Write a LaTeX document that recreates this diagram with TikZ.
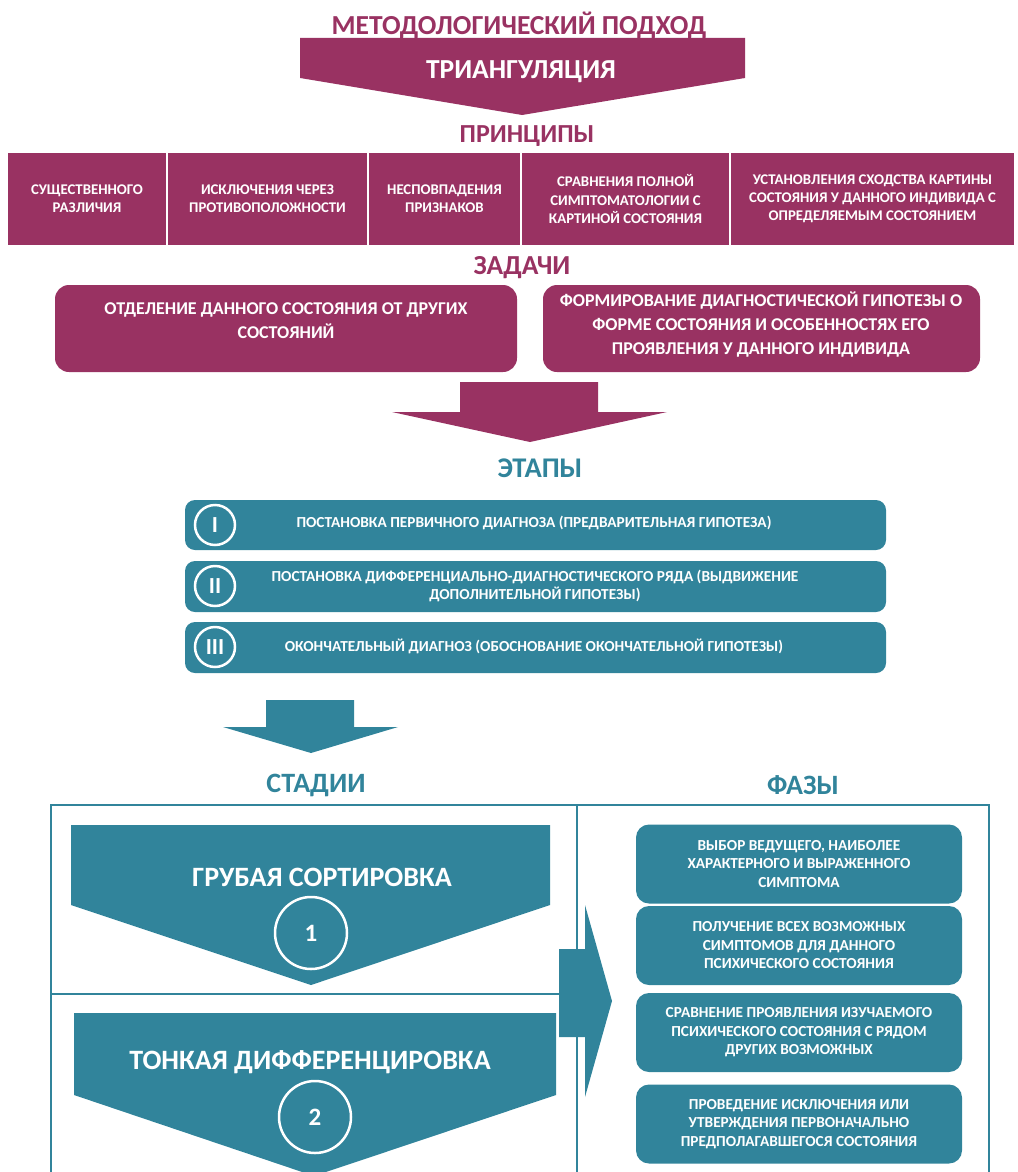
\documentclass[tikz,border=0pt]{standalone}
\usepackage{fontspec}
\setmainfont{Carlito}
\usetikzlibrary{calc}
\definecolor{plum}{RGB}{153,50,98}
\definecolor{sea}{RGB}{49,132,155}

\tikzset{
  head/.style={font=\bfseries\fontsize{27.5}{30}\selectfont},
  prin/.style={draw=white,line width=1.5pt,fill=plum,text=white,align=center,
    minimum width=#1,minimum height=93,inner sep=2pt,
    font=\bfseries\fontsize{14.8}{18}\selectfont},
  task/.style={fill=plum,text=white,align=center,rounded corners=14,
    font=\bfseries\fontsize{18}{24}\selectfont},
  bar/.style={fill=sea,rounded corners=10},
  bartxt/.style={text=white,align=center,font=\bfseries\fontsize{15.3}{18}\selectfont},
  rim/.style={circle,draw=white,line width=2.5pt,text=white,minimum size=#1,inner sep=0pt},
  phase/.style={fill=sea,text=white,align=center,rounded corners=13,
    minimum width=326,minimum height=79,
    font=\bfseries\fontsize{15.3}{18.5}\selectfont},
}

\begin{document}
\begin{tikzpicture}[x=1pt,y=-1pt]
\useasboundingbox (0,0) rectangle (1017,1172);

% triangulation arrow
\fill[plum] (300,38) -- (745,38) -- (745,78) -- (522,115) -- (300,78) -- cycle;
\node[head,text=plum] (meth) at (519,25) {МЕТОДОЛОГИЧЕСКИЙ ПОДХОД};
\node[head,text=white] (tri) at (521,72) {ТРИАНГУЛЯЦИЯ};

% principles
\node[head,text=plum,font=\bfseries\fontsize{26}{30}\selectfont] (prn) at (527,136) {ПРИНЦИПЫ};
\node[prin=160] (p1) at (87,199) {СУЩЕСТВЕННОГО\\РАЗЛИЧИЯ};
\node[prin=201] (p2) at (267.5,199) {ИСКЛЮЧЕНИЯ ЧЕРЕЗ\\ПРОТИВОПОЛОЖНОСТИ};
\node[prin=153] (p3) at (444.5,199) {НЕСПОВПАДЕНИЯ\\ПРИЗНАКОВ};
\node[prin=209] (p4) at (625.5,199) {СРАВНЕНИЯ ПОЛНОЙ\\СИМПТОМАТОЛОГИИ С\\КАРТИНОЙ СОСТОЯНИЯ};
\node[prin=285] (p5) at (872.5,199) {УСТАНОВЛЕНИЯ СХОДСТВА КАРТИНЫ\\СОСТОЯНИЯ У ДАННОГО ИНДИВИДА С\\ОПРЕДЕЛЯЕМЫМ СОСТОЯНИЕМ};

% tasks
\node[head,text=plum] (zad) at (522,268) {ЗАДАЧИ};
\fill[plum,rounded corners=14] (55,285) rectangle (517,372);
\fill[plum,rounded corners=14] (543,285) rectangle (980,372);
\node[task] (t1) at (286,321) {ОТДЕЛЕНИЕ ДАННОГО СОСТОЯНИЯ ОТ ДРУГИХ\\СОСТОЯНИЙ};
\node[task] (t2) at (761,325) {ФОРМИРОВАНИЕ ДИАГНОСТИЧЕСКОЙ ГИПОТЕЗЫ О\\ФОРМЕ СОСТОЯНИЯ И ОСОБЕННОСТЯХ ЕГО\\ПРОЯВЛЕНИЯ У ДАННОГО ИНДИВИДА};
\fill[plum] (460,382) -- (598,382) -- (598,412) -- (667,412) -- (530,442)
  -- (392,412) -- (460,412) -- cycle;

% stages
\node[head,text=sea,font=\bfseries\fontsize{28.5}{30}\selectfont] (etp) at (540,468) {ЭТАПЫ};
\fill[bar] (185,500) rectangle (886,550);
\fill[bar] (185,561) rectangle (886,612);
\fill[bar] (185,622) rectangle (886,673);
\node[rim=40,font=\bfseries\fontsize{23}{24}\selectfont] (r1) at (215,525) {I};
\node[rim=40,font=\bfseries\fontsize{23}{24}\selectfont] (r2) at (215,586) {II};
\node[rim=40,font=\bfseries\fontsize{23}{24}\selectfont] (r3) at (215,647) {III};
\node[bartxt] (e1) at (534,523) {ПОСТАНОВКА ПЕРВИЧНОГО ДИАГНОЗА (ПРЕДВАРИТЕЛЬНАЯ ГИПОТЕЗА)};
\node[bartxt] (e2) at (535,586) {ПОСТАНОВКА ДИФФЕРЕНЦИАЛЬНО-ДИАГНОСТИЧЕСКОГО РЯДА (ВЫДВИЖЕНИЕ\\ДОПОЛНИТЕЛЬНОЙ ГИПОТЕЗЫ)};
\node[bartxt] (e3) at (534,646) {ОКОНЧАТЕЛЬНЫЙ ДИАГНОЗ (ОБОСНОВАНИЕ ОКОНЧАТЕЛЬНОЙ ГИПОТЕЗЫ)};
\fill[sea] (266,700) -- (354,700) -- (354,727) -- (398,727) -- (311,753)
  -- (223,727) -- (266,727) -- cycle;

% frame
\node[head,text=sea,font=\bfseries\fontsize{28}{30}\selectfont] (sta) at (316,785) {СТАДИИ};
\node[head,text=sea,font=\bfseries\fontsize{28}{30}\selectfont] (faz) at (803,785) {ФАЗЫ};
\draw[sea,line width=2.5pt] (51,1180) |- (989,805) -- (989,1180);
\draw[sea,line width=2pt] (577,805) -- (577,1180);
\draw[sea,line width=2pt] (51,994) -- (560,994);

% left column
\fill[sea] (71,825) -- (550,825) -- (550,905) -- (311,985) -- (71,905) -- cycle;
\fill[sea] (74,1013) -- (556,1013) -- (556,1095) -- (314,1176) -- (74,1095) -- cycle;
\node[head,text=white,font=\bfseries\fontsize{28}{30}\selectfont] (s1) at (322,877) {ГРУБАЯ СОРТИРОВКА};
\node[head,text=white,font=\bfseries\fontsize{28}{30}\selectfont] (s2) at (310,1062) {ТОНКАЯ ДИФФЕРЕНЦИРОВКА};
\node[rim=72,font=\bfseries\fontsize{25}{26}\selectfont] (c1) at (311,933) {1};
\node[rim=72,font=\bfseries\fontsize{25}{26}\selectfont] (c2) at (315,1117) {2};
\fill[sea] (559,949) -- (585,949) -- (585,905) -- (612,1001) -- (585,1097)
  -- (585,1037) -- (559,1037) -- cycle;

% right column
\node[phase] (f1) at (799,864) {ВЫБОР ВЕДУЩЕГО, НАИБОЛЕЕ\\ХАРАКТЕРНОГО И ВЫРАЖЕННОГО\\СИМПТОМА};
\node[phase] (f2) at (799,945.5) {ПОЛУЧЕНИЕ ВСЕХ ВОЗМОЖНЫХ\\СИМПТОМОВ ДЛЯ ДАННОГО\\ПСИХИЧЕСКОГО СОСТОЯНИЯ};
\node[phase] (f3) at (799,1032.5) {СРАВНЕНИЕ ПРОЯВЛЕНИЯ ИЗУЧАЕМОГО\\ПСИХИЧЕСКОГО СОСТОЯНИЯ С РЯДОМ\\ДРУГИХ ВОЗМОЖНЫХ};
\node[phase] (f4) at (799,1124) {ПРОВЕДЕНИЕ ИСКЛЮЧЕНИЯ ИЛИ\\УТВЕРЖДЕНИЯ ПЕРВОНАЧАЛЬНО\\ПРЕДПОЛАГАВШЕГОСЯ СОСТОЯНИЯ};
\end{tikzpicture}
\end{document}
